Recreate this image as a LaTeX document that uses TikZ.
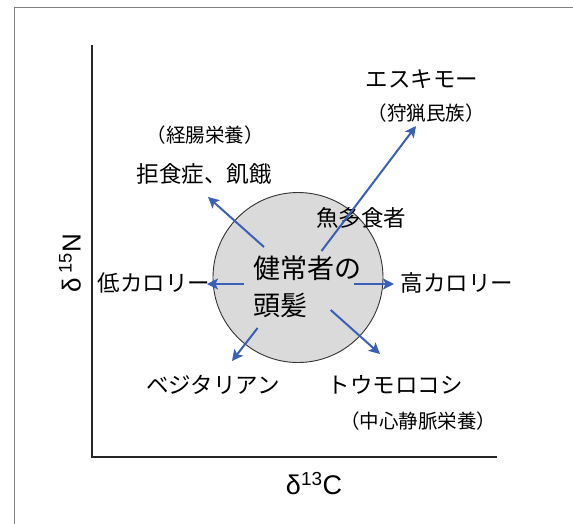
\documentclass[tikz,border=0pt]{standalone}
\usepackage{fontspec}
\setmainfont{Liberation Sans}
\newfontfamily\jp{Noto Sans CJK JP}
\usetikzlibrary{arrows.meta}
\definecolor{arrowblue}{RGB}{58,95,180}
\definecolor{framegray}{RGB}{128,128,128}
\definecolor{circfill}{RGB}{218,218,218}
\tikzset{
  jlabel/.style={inner sep=0pt, font=\jp\fontsize{22.5}{26}\selectfont},
  jsmall/.style={inner sep=0pt, font=\jp\fontsize{19.5}{22}\selectfont},
  jbig/.style={inner sep=0pt, anchor=west, font=\jp\fontsize{27}{30}\selectfont},
  bluearrow/.style={draw=arrowblue, line width=2pt, -{Stealth[length=11pt,width=11pt,inset=2.5pt]}},
  axisline/.style={draw=black!85, line width=1.8pt},
}
\begin{document}
\begin{tikzpicture}[x=1pt,y=-1pt]
\useasboundingbox (0,0) rectangle (573,523);
% frame
\draw[framegray, line width=1.4pt] (14.5,530) -- (14.5,7.5) -- (580,7.5);
% axes
\draw[axisline] (92,45) -- (92,457) -- (497,457);
% circle
\node[circle, draw=black!80, line width=0.9pt, fill=circfill, minimum size=170pt, inner sep=0pt] (c) at (298,277.5) {};
% labels
\node[jbig] (h1) at (253,268) {健常者の};
\node[jbig] (h2) at (253,305) {頭髪};
\node[jlabel] (esk) at (422,79) {エスキモー};
\node[jsmall] (hunt) at (426,113) {（狩猟民族）};
\node[jsmall] (enteral) at (205,135) {（経腸栄養）};
\node[jlabel] (anor) at (204,174) {拒食症、飢餓};
\node[jlabel] (fish) at (361,218) {魚多食者};
\node[jlabel] (low) at (154,283) {低カロリー};
\node[jlabel] (high) at (457,283) {高カロリー};
\node[jlabel] (veg) at (213,385) {ベジタリアン};
\node[jlabel] (corn) at (395,385) {トウモロコシ};
\node[jsmall] (tpn) at (418,421) {（中心静脈栄養）};
\node[inner sep=0pt, rotate=90, font=\fontsize{26}{28}\selectfont] (ny) at (70,263) {δ\,\textsuperscript{15}N};
\node[inner sep=0pt, font=\fontsize{27}{29}\selectfont] (cx) at (314,484) {δ\textsuperscript{13}C};
% arrow endpoints
\coordinate (a1s) at (264,247); \coordinate (a1e) at (208,197);
\coordinate (a2s) at (321.5,251); \coordinate (a2e) at (416,126);
\coordinate (a3s) at (244,284); \coordinate (a3e) at (207,284);
\coordinate (a4s) at (354,284); \coordinate (a4e) at (394,284);
\coordinate (a5s) at (257.6,328); \coordinate (a5e) at (232,361);
\coordinate (a6s) at (330.7,310); \coordinate (a6e) at (380,354);
\draw[bluearrow] (a1s) -- (a1e);
\draw[bluearrow] (a2s) -- (a2e);
\draw[bluearrow] (a3s) -- (a3e);
\draw[bluearrow] (a4s) -- (a4e);
\draw[bluearrow] (a5s) -- (a5e);
\draw[bluearrow] (a6s) -- (a6e);
\end{tikzpicture}
\end{document}
